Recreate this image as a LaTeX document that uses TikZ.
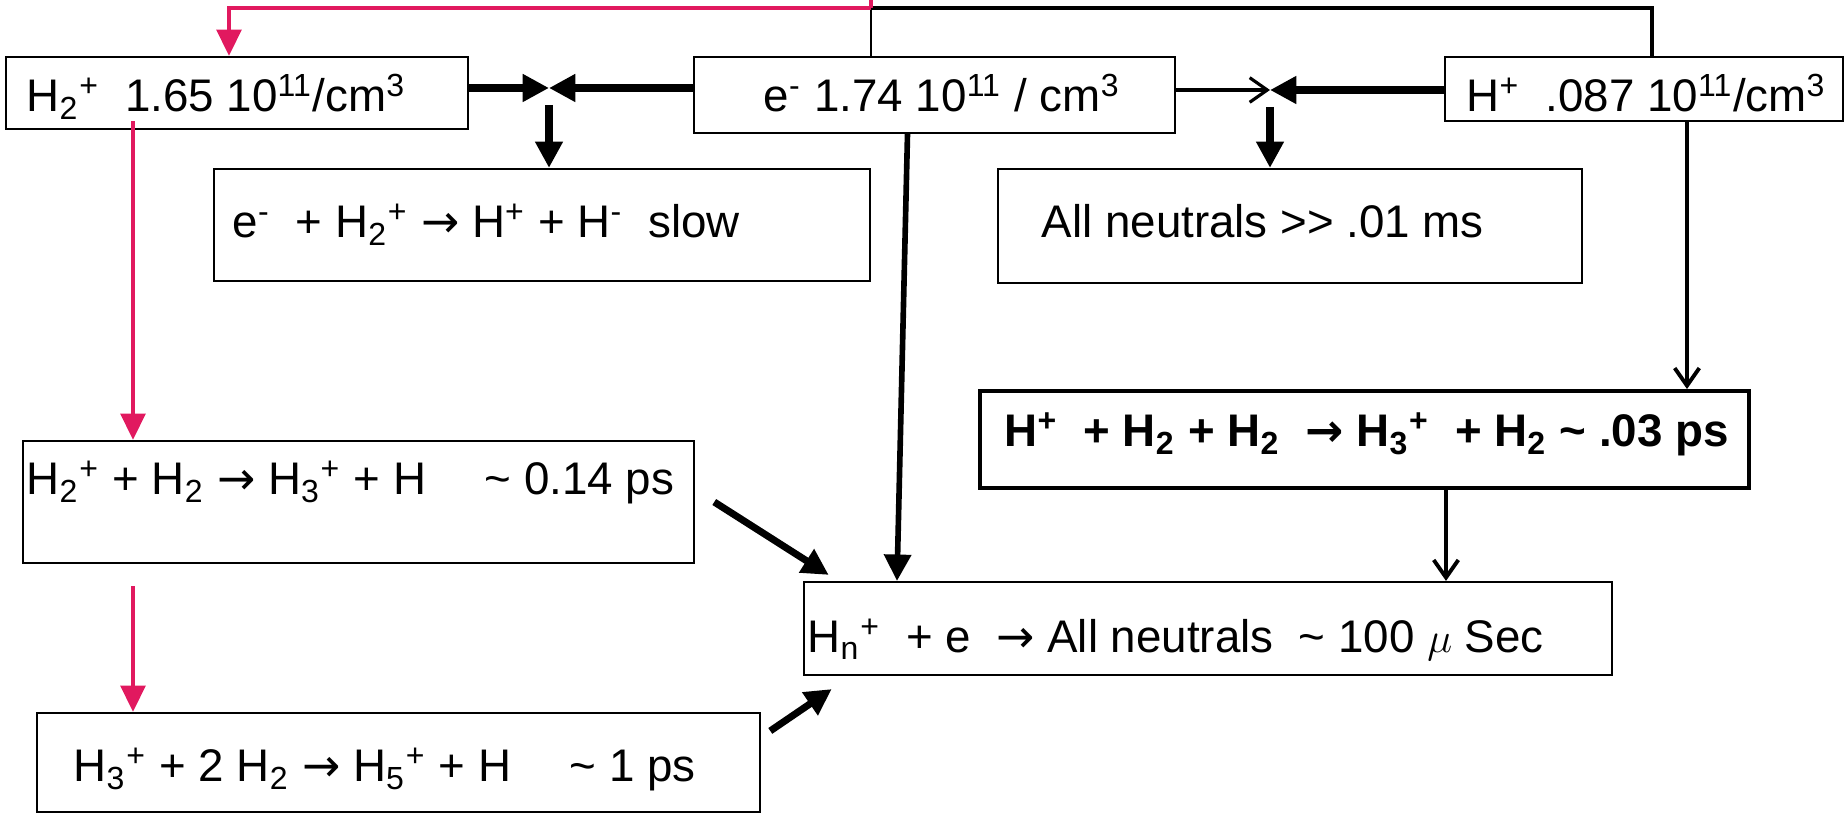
\documentclass[tikz,border=0pt]{standalone}
\usepackage{fontspec}
\setmainfont{Liberation Sans}
\newfontfamily\arrowfont{DejaVu Sans}
\usepackage{tikz}
\usetikzlibrary{arrows.meta,calc}
\definecolor{rosa}{RGB}{225,25,95}
\newcommand{\up}[1]{\textsuperscript{#1}}
\newcommand{\dn}[1]{\textsubscript{#1}}
\newcommand{\tld}{\textasciitilde}
\newcommand{\arr}{{\arrowfont →}}

\begin{document}
\begin{tikzpicture}[x=0.01cm, y=-0.01cm,
    box/.style={rectangle, draw, line width=0.6pt, inner sep=0pt},
    txt/.style={anchor=base west, inner sep=0pt, font=\fontsize{13}{15}\selectfont},
    heavyarrow/.style={-{Triangle[length=7.5pt,width=7.5pt]}, line width=2pt},
    lightarrow/.style={-{Straight Barb[length=5pt,width=7pt]}, line width=0.9pt},
    rosaarrow/.style={-{Triangle[length=7.5pt,width=7pt]}, line width=1.2pt, draw=rosa}]

    \useasboundingbox (0,0) rectangle (1845,813);

    \node[box, minimum width=4.62cm, minimum height=0.72cm] (h2p) at (237,93) {};
    \node[box, minimum width=4.81cm, minimum height=0.76cm] (ep) at (934.5,95) {};
    \node[box, minimum width=3.97cm, minimum height=0.64cm] (hp) at (1644,89) {};
    \node[box, minimum width=6.56cm, minimum height=1.12cm] (slow) at (542,225) {};
    \node[box, minimum width=5.84cm, minimum height=1.14cm] (neut) at (1290,226) {};
    \node[box, minimum width=6.71cm, minimum height=1.22cm] (rA) at (358.5,502) {};
    \node[box, minimum width=7.23cm, minimum height=0.99cm] (rB) at (398.5,762.5) {};
    \node[box, minimum width=8.08cm, minimum height=0.93cm] (hn) at (1208,628.5) {};
    \node[box, line width=1.1pt, minimum width=7.69cm, minimum height=0.97cm] (rC) at (1364.5,439.5) {};

    \node[txt] (th2p) at (26,112) {H\dn{2}\up{+}\ \ 1.65 10\up{11}/cm\up{3}};
    \node[txt] (tep) at (763,112) {e\up{-} 1.74 10\up{11} / cm\up{3}};
    \node[txt] (thp) at (1466,112) {H\up{+}\ \ .087 10\up{11}/cm\up{3}};
    \node[txt] (tslow) at (232,238) {e\up{-}\ \ + H\dn{2}\up{+} \arr{} H\up{+} + H\up{-}\ \ slow};
    \node[txt] (tneut) at (1041,238) {All neutrals >{}> .01 ms};
    \node[txt] (trA) at (26,495) {H\dn{2}\up{+} + H\dn{2} \arr{} H\dn{3}\up{+} + H\quad\ \tld\ 0.14 ps};
    \node[txt] (trB) at (73,782) {H\dn{3}\up{+} + 2 H\dn{2} \arr{} H\dn{5}\up{+} + H\quad\ \tld\ 1 ps};
    \node[txt] (thn) at (807,653) {H\dn{n}\up{+}\ \ + e\ \ \arr{} All neutrals\ \ \tld\ 100 $\mu$ Sec};
    \node[txt, font=\fontsize{13}{15}\selectfont\bfseries] (trC) at (1004,447) {H\up{+}\ \ + H\dn{2} + H\dn{2}\ \ \arr{} H\dn{3}\up{+}\ \ + H\dn{2} \tld\ .03 ps};

    \coordinate (top) at (871,8);
    \coordinate (mL) at (549,88);
    \coordinate (mR) at (1270,90);

    \draw[line width=0.7pt] (top |- ep.north) -- (top);
    \draw[line width=0.9pt] (top) -| ($(hp.north)+(8,0)$);
    \draw[rosa, line width=1.2pt] ([yshift=3pt]top) -- (top);
    \draw[rosaarrow] (top) -| ($(h2p.north)+(-8,0)$);

    \draw[heavyarrow] (h2p.east |- mL) -- (mL);
    \draw[heavyarrow] (ep.west |- mL) -- (mL);
    \draw[heavyarrow] ($(mL)+(0,17)$) -- (mL |- slow.north);
    \draw[lightarrow] (ep.east |- mR) -- (mR);
    \draw[heavyarrow] (hp.west |- mR) -- (mR);
    \draw[heavyarrow] ($(mR)+(0,17)$) -- (mR |- neut.north);

    \draw[heavyarrow, line width=1.6pt] ($(ep.south)+(-27,0)$) -- ($(hn.north)+(-311,0)$);
    \draw[lightarrow, line width=1.1pt] ($(hp.south)+(43,0)$) -- ($(rC.north)+(322.5,0)$);
    \draw[lightarrow, line width=1.1pt] ($(rC.south)+(81.5,0)$) -- ($(hn.north)+(238,0)$);
    \draw[heavyarrow] ($(rA.east)+(19,0)$) -- ($(hn.north west)+(26,-6)$);
    \draw[heavyarrow] ($(rB.north east)+(9,19)$) -- ($(hn.south west)+(29,13)$);

    \draw[rosaarrow] ($(h2p.south)+(-104,-9)$) -- (rA.north -| 133,0);
    \draw[rosaarrow] ($(rA.south)+(-225.5,22)$) -- (rB.north -| 133,0);
\end{tikzpicture}
\end{document}
